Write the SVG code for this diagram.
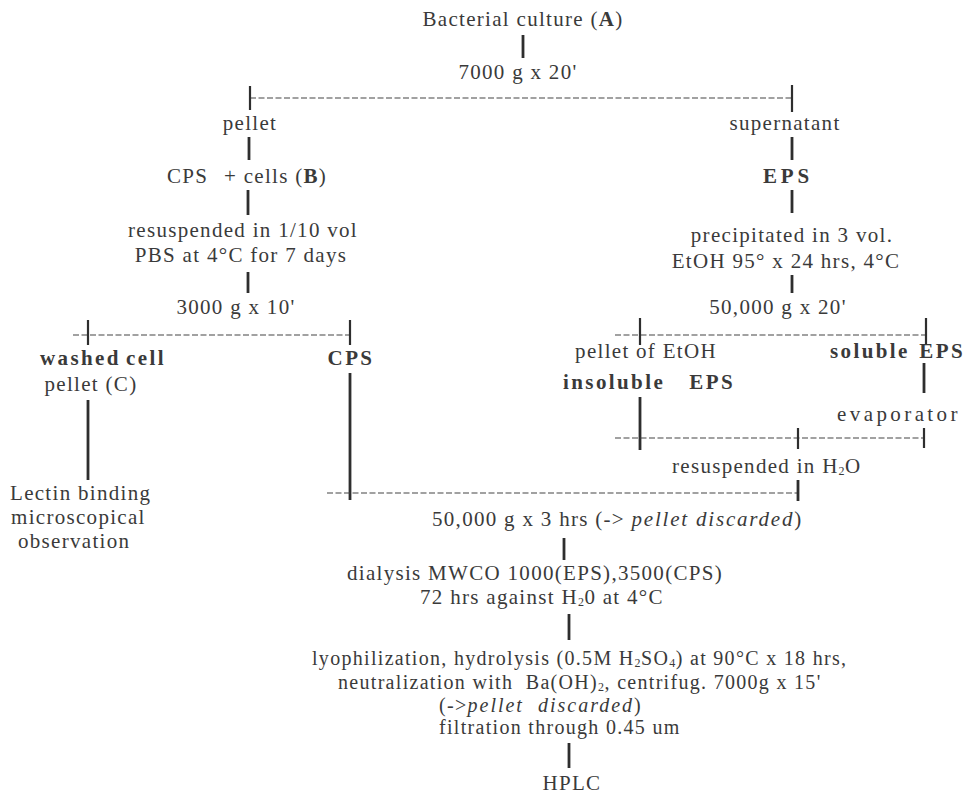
<svg xmlns="http://www.w3.org/2000/svg" width="971" height="801" viewBox="0 0 971 801">
<style>
  text { font-family: "Liberation Serif", "Times New Roman", serif; font-size: 21px; fill: #3a3a3a; letter-spacing: 1.3px; }
  .c { text-anchor: middle; }
  .e { text-anchor: end; }
  .b { font-weight: bold; letter-spacing: 2.4px; }
  .i { font-style: italic; }
  .s { font-size: 20px; letter-spacing: 1.3px; }
  .sub { font-size: 12px; letter-spacing: 0.5px; }
  .v { stroke: #2e2e2e; stroke-width: 2.8; fill: none; }
  .t { stroke: #2e2e2e; stroke-width: 2.2; fill: none; }
  .d { stroke: #444; stroke-width: 1.2; stroke-dasharray: 6 2.5; fill: none; }
</style>
<rect width="971" height="801" fill="#ffffff"/>

<g id="connectors">
  <line class="v" x1="523" y1="35" x2="523" y2="58"/>
  <line class="d" x1="250" y1="98" x2="792" y2="98"/>
  <line class="t" x1="250" y1="86" x2="250" y2="110"/>
  <line class="t" x1="792" y1="85" x2="792" y2="112"/>
  <line class="v" x1="249" y1="137" x2="249" y2="160"/>
  <line class="v" x1="248" y1="190" x2="248" y2="215"/>
  <line class="v" x1="248" y1="272" x2="248" y2="293"/>
  <line class="v" x1="792" y1="137" x2="792" y2="160"/>
  <line class="v" x1="792" y1="190" x2="792" y2="213"/>
  <line class="v" x1="792" y1="275" x2="792" y2="293"/>
  <line class="d" x1="73" y1="335" x2="350" y2="335"/>
  <line class="t" x1="88" y1="320" x2="88" y2="345"/>
  <line class="t" x1="350" y1="320" x2="350" y2="345"/>
  <line class="d" x1="615" y1="335" x2="926" y2="335"/>
  <line class="t" x1="640" y1="318" x2="640" y2="345"/>
  <line class="t" x1="926" y1="318" x2="926" y2="345"/>
  <line class="v" x1="88" y1="400" x2="88" y2="480"/>
  <line class="v" x1="350" y1="373" x2="350" y2="500"/>
  <line class="v" x1="640" y1="397" x2="640" y2="450"/>
  <line class="v" x1="924" y1="363" x2="924" y2="393"/>
  <line class="d" x1="615" y1="438" x2="924" y2="438"/>
  <line class="t" x1="798" y1="428" x2="798" y2="449"/>
  <line class="t" x1="924" y1="428" x2="924" y2="448"/>
  <line class="d" x1="327" y1="493" x2="798" y2="493"/>
  <line class="v" x1="798" y1="480" x2="798" y2="501"/>
  <line class="v" x1="564" y1="538" x2="564" y2="560"/>
  <line class="v" x1="569" y1="614" x2="569" y2="640"/>
  <line class="v" x1="569" y1="743" x2="569" y2="768"/>
</g>

<g id="culture"><text class="c" x="523" y="26">Bacterial culture (<tspan font-weight="bold">A</tspan>)</text></g>
<g id="spin1"><text class="c" x="518" y="79">7000 g x 20'</text></g>
<g id="pellet"><text class="c" x="250" y="130">pellet</text></g>
<g id="supernatant"><text class="c" x="785" y="130">supernatant</text></g>
<g id="cps-cells"><text x="167" y="183">CPS</text><text x="224" y="183">+ cells (<tspan font-weight="bold">B</tspan>)</text></g>
<g id="eps"><text class="c b" x="788" y="183" style="letter-spacing:3.9px">EPS</text></g>
<g id="resusp1">
  <text class="c" x="243" y="237">resuspended in 1/10 vol</text>
  <text class="c" x="241" y="262">PBS at 4°C for 7 days</text>
</g>
<g id="precip">
  <text class="c" x="792" y="242">precipitated in 3 vol.</text>
  <text class="c" x="786" y="268">EtOH 95° x 24 hrs, 4°C</text>
</g>
<g id="spin2"><text class="c" x="236" y="314">3000 g x 10'</text></g>
<g id="spin3"><text class="c" x="778" y="314">50,000 g x 20'</text></g>
<g id="washed">
  <text class="b" x="40" y="365">washed</text><text class="b e" x="166" y="365">cell</text>
  <text class="c" x="91" y="391">pellet (C)</text>
</g>
<g id="cps"><text class="c b" x="351" y="365">CPS</text></g>
<g id="insoluble">
  <text class="c" x="646" y="358">pellet of EtOH</text>
  <text class="b" x="563" y="389">insoluble</text><text class="b e" x="735" y="389">EPS</text>
</g>
<g id="soluble"><text class="b" x="830" y="358">soluble</text><text class="b e" x="965" y="358">EPS</text></g>
<g id="evaporator"><text class="c" x="899" y="421" style="letter-spacing:3.4px">evaporator</text></g>
<g id="lectin">
  <text x="10" y="500">Lectin binding</text>
  <text x="11" y="524">microscopical</text>
  <text x="18" y="548">observation</text>
</g>
<g id="resusp2"><text x="672" y="473">resuspended in H<tspan class="sub" dy="2">2</tspan><tspan dy="-2">O</tspan></text></g>
<g id="spin4"><text x="432" y="526">50,000 g x 3 hrs (-&gt; <tspan class="i" style="letter-spacing:1.8px">pellet discarded</tspan>)</text></g>
<g id="dialysis">
  <text x="347" y="580">dialysis MWCO 1000(EPS),3500(CPS)</text>
  <text x="420" y="604">72 hrs against H<tspan class="sub" dy="2">2</tspan><tspan dy="-2">0 at 4°C</tspan></text>
</g>
<g id="hydrolysis">
  <text class="s" x="312" y="665">lyophilization, hydrolysis (0.5M H<tspan class="sub" dy="2">2</tspan><tspan dy="-2">SO</tspan><tspan class="sub" dy="2">4</tspan><tspan dy="-2">) at 90°C x 18 hrs,</tspan></text>
  <text class="s" x="338" y="689">neutralization with &#160;Ba(OH)<tspan class="sub" dy="2">2</tspan><tspan dy="-2">, centrifug. 7000g x 15'</tspan></text>
  <text class="s" x="439" y="712">(-&gt;<tspan class="i" style="letter-spacing:2px">pellet &#160;discarded</tspan>)</text>
  <text class="s" x="439" y="734">filtration through 0.45 um</text>
</g>
<g id="hplc"><text class="c" x="572" y="790">HPLC</text></g>
</svg>
